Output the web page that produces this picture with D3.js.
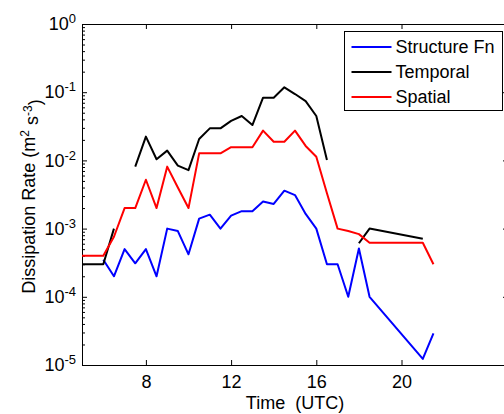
<!DOCTYPE html>
<html>
<head>
<meta charset="utf-8">
<script src="https://cdn.jsdelivr.net/npm/d3@7"></script>
<style>
  body { margin: 0; background: #fff; }
  svg { display: block; font-family: Arial, "Liberation Sans", sans-serif; }
  .domain { stroke: #000; }
  .tick line { stroke: #000; }
</style>
</head>
<body>
<svg id="svgContent" width="504" height="414"></svg>
<script>
// data
const temporalTime = [5, 5.5, 6, 6.5, 7, 7.5, 8, 8.5, 9, 9.5, 10, 10.5, 11, 11.5, 12, 12.5, 13, 13.5, 14, 14.5, 15, 15.5, 16, 16.5, 17, 17.5, 18, 18.5, 21]
const temporal = [3e-4, 3e-4, 3e-4, 1e-3, null, 8.1e-3, 0.0223, 0.0104, 0.0139, 8.4e-3, 7.2e-3, 0.0206, 0.0295, 0.0295, 0.038, 0.0448, 0.033, 0.083, 0.083, 0.118, 0.094, 0.074, 0.0448, 0.0101, null, null, 6.1e-4, 1e-3, 7.1e-4]

const spatialTime = [5, 5.5, 6, 6.5, 7, 7.5, 8, 8.5, 9, 9.5, 10, 10.5, 11, 11.5, 12, 12.5, 13, 13.5, 14, 14.5, 15, 15.5, 16, 16.5, 17, 17.5, 18, 18.5, 21, 21.5]
const spatial = [4e-4, 4e-4, 4e-4, 7.6e-4, 2e-3, 2e-3, 5.2e-3, 2e-3, 8.1e-3, 4e-3, 2e-3, 0.0127, 0.0127, 0.0127, 0.0156, 0.0156, 0.0156, 0.0273, 0.0188, 0.0188, 0.0273, 0.0163, 0.0113, 3.3e-3, 1e-3, 9.2e-4, 8.3e-4, 6.2e-4, 6.2e-4, 3e-4]

const structureTime = [6, 6.5, 7, 7.5, 8, 8.5, 9, 9.5, 10, 10.5, 11, 11.5, 12, 12.5, 13, 13.5, 14, 14.5, 15, 15.5, 16, 16.5, 17, 17.5, 18, 18.5, 21, 21.5]
const structureFn = [3.5e-4, 2e-4, 5e-4, 3.1e-4, 5e-4, 2e-4, 1e-3, 9.2e-4, 4.2e-4, 1.4e-3, 1.6e-3, 1e-3, 1.55e-3, 1.8e-3, 1.8e-3, 2.5e-3, 2.3e-3, 3.6e-3, 3.1e-3, 1.64e-3, 1e-3, 3e-4, 3e-4, 1e-4, 5.1e-4, 1e-4, 1.23e-5, 2.9e-5]

const xTicks = [8, 12, 16, 20]
const yTicks = [1, 1e-1, 1e-2, 1e-3, 1e-4, 1e-5]
const legendNames = ['Structure Fn', 'Temporal', 'Spatial']

const svg = d3.select('#svgContent')

const plotLeft = 82, plotRight = 508, plotTop = 24, plotBottom = 365

const x = d3.scaleLinear().domain([5, 25]).range([plotLeft, plotRight])
const y = d3.scaleLog().domain([1e-5, 1]).range([plotBottom, plotTop])

// minor log ticks 2..9 in each decade
const minorTicks = []
for (let e = -5; e < 0; e++) {
    for (let m = 2; m <= 9; m++) minorTicks.push(m * Math.pow(10, e))
}

// axes, ticks pointing inward like matlab
svg.append('g')
    .attr('transform', `translate(0,${plotBottom})`)
    .call(d3.axisBottom(x).tickValues(xTicks).tickSize(-5).tickPadding(10).tickSizeOuter(0))
    .call(g => g.selectAll('text').attr('font-size', 18).attr('fill', '#000').attr('font-family', 'Arial, "Liberation Sans", sans-serif'))

svg.append('g')
    .attr('transform', `translate(0,${plotTop})`)
    .call(d3.axisTop(x).tickValues(xTicks).tickSize(-5).tickSizeOuter(0).tickFormat(''))

svg.append('g')
    .attr('transform', `translate(${plotLeft},0)`)
    .call(d3.axisLeft(y).tickValues(minorTicks).tickSize(-3).tickSizeOuter(0).tickFormat(''))

svg.append('g')
    .attr('transform', `translate(${plotLeft},0)`)
    .call(d3.axisLeft(y).tickValues(yTicks).tickSize(-5).tickPadding(6).tickSizeOuter(0).tickFormat(''))
    .call(g => g.selectAll('.tick text').each(function (d) {
        const t = d3.select(this)
            .attr('font-size', 18)
            .attr('fill', '#000')
            .attr('font-family', 'Arial, "Liberation Sans", sans-serif')
        t.append('tspan').text('10')
        t.append('tspan').attr('dy', '-0.55em').attr('font-size', 13).text(Math.round(Math.log10(d)))
    }))

svg.append('g')
    .attr('transform', `translate(${plotRight},0)`)
    .call(d3.axisRight(y).tickValues(yTicks).tickSize(-5).tickSizeOuter(0).tickFormat(''))

// data lines
const series = [
    {name: 'Structure Fn', color: '#0000ff', time: structureTime, values: structureFn},
    {name: 'Temporal', color: '#000000', time: temporalTime, values: temporal},
    {name: 'Spatial', color: '#ff0000', time: spatialTime, values: spatial}
]

const line = d3.line()
    .defined(d => d[1] !== null)
    .x(d => x(d[0]))
    .y(d => y(d[1]))

svg.selectAll('.series')
    .data(series)
    .join('path')
    .attr('class', 'series')
    .attr('fill', 'none')
    .attr('stroke', d => d.color)
    .attr('stroke-width', 2)
    .attr('stroke-linejoin', 'round')
    .attr('d', d => line(d.time.map((t, i) => [t, d.values[i]])))

// axis labels
svg.append('text')
    .attr('x', (plotLeft + plotRight) / 2)
    .attr('y', 409)
    .attr('text-anchor', 'middle')
    .attr('font-size', 18)
    .style('white-space', 'pre')
    .text('Time  (UTC)')

const ylab = svg.append('text')
    .attr('transform', `translate(35,${(plotTop + plotBottom) / 2 + 2}) rotate(-90)`)
    .attr('text-anchor', 'middle')
    .attr('font-size', 18)
ylab.append('tspan').text('Dissipation Rate (m')
ylab.append('tspan').attr('dy', '-0.5em').attr('font-size', 12).text('2')
ylab.append('tspan').attr('dy', '0.5em').text(' s')
ylab.append('tspan').attr('dy', '-0.5em').attr('font-size', 12).text('-3')
ylab.append('tspan').attr('dy', '0.5em').text(')')

// legend
const legend = svg.append('g').attr('transform', 'translate(344.5,31.5)')
legend.append('rect')
    .attr('width', 158)
    .attr('height', 79)
    .attr('fill', '#fff')
    .attr('stroke', '#000')
    .attr('stroke-width', 1)

const rowY = d3.scaleBand().domain(legendNames).range([3, 78])

const rows = legend.selectAll('.legendRow')
    .data(series)
    .join('g')
    .attr('class', 'legendRow')
    .attr('transform', d => `translate(0,${rowY(d.name) + rowY.bandwidth() / 2})`)

rows.append('line')
    .attr('x1', 7)
    .attr('x2', 47)
    .attr('stroke', d => d.color)
    .attr('stroke-width', 2)

rows.append('text')
    .attr('x', 51)
    .attr('dy', '0.36em')
    .attr('font-size', 18)
    .text(d => d.name)
</script>
</body>
</html>
